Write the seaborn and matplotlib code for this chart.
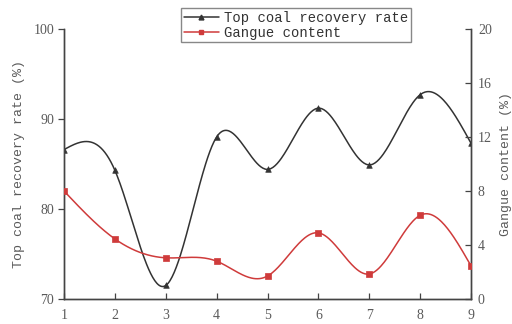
import numpy as np
import pandas as pd
import matplotlib
matplotlib.use("Agg")
import matplotlib.pyplot as plt
from matplotlib.lines import Line2D
import seaborn as sns

# Measured values per working face position
positions = [1, 2, 3, 4, 5, 6, 7, 8, 9]
recovery_rate = [86.6, 84.3, 71.5, 88.0, 84.4, 91.2, 84.9, 92.7, 87.3]
gangue_content = [8.0, 4.45, 3.05, 2.8, 1.7, 4.9, 1.85, 6.2, 2.45]

left_ticks = [70, 80, 90, 100]
right_ticks = [0, 4, 8, 12, 16, 20]


def natural_spline(x, y, num=400):
    """Smooth curve through the points using a natural cubic spline."""
    x = np.asarray(x, float)
    y = np.asarray(y, float)
    n = len(x)
    h = np.diff(x)
    A = np.zeros((n, n))
    b = np.zeros(n)
    A[0, 0] = A[-1, -1] = 1.0
    for i in range(1, n - 1):
        A[i, i - 1] = h[i - 1]
        A[i, i] = 2 * (h[i - 1] + h[i])
        A[i, i + 1] = h[i]
        b[i] = 3 * ((y[i + 1] - y[i]) / h[i] - (y[i] - y[i - 1]) / h[i - 1])
    c = np.linalg.solve(A, b)
    xs = np.linspace(x[0], x[-1], num)
    idx = np.clip(np.searchsorted(x, xs, side="right") - 1, 0, n - 2)
    dx = xs - x[idx]
    bb = (y[idx + 1] - y[idx]) / h[idx] - h[idx] * (2 * c[idx] + c[idx + 1]) / 3
    dd = (c[idx + 1] - c[idx]) / (3 * h[idx])
    ys = y[idx] + bb * dx + c[idx] * dx ** 2 + dd * dx ** 3
    return xs, ys


sns.set_theme(style="white")
plt.rcParams["font.family"] = ["Liberation Serif", "DejaVu Serif"]

text_color = "#5a5a5a"
axis_color = "#444444"
black_line = "#333333"
red_line = "#cf3b3b"

fig = plt.figure(figsize=(5.12, 3.24), dpi=100)
ax = fig.add_axes([0.125, 0.0772, 0.795, 0.8333])
ax2 = ax.twinx()

df = pd.DataFrame({"pos": positions, "rate": recovery_rate, "gangue": gangue_content})

xs, ys = natural_spline(positions, recovery_rate)
sns.lineplot(x=xs, y=ys, ax=ax, color=black_line, lw=1.1, sort=False)
sns.scatterplot(data=df, x="pos", y="rate", ax=ax, marker="^", s=16,
                color=black_line, edgecolor=black_line, linewidth=0.5, zorder=3)

xs2, ys2 = natural_spline(positions, gangue_content)
sns.lineplot(x=xs2, y=ys2, ax=ax2, color=red_line, lw=1.1, sort=False)
sns.scatterplot(data=df, x="pos", y="gangue", ax=ax2, marker="s", s=14,
                color=red_line, edgecolor=red_line, linewidth=0.5, zorder=3)

ax.set_xlim(1, 9)
ax.set_ylim(70, 100)
ax2.set_ylim(0, 20)
ax.set_xticks(positions)
ax.set_yticks(left_ticks)
ax2.set_yticks(right_ticks)
ax.set_xlabel("")

mono = ["Liberation Mono", "DejaVu Sans Mono"]
ax.set_ylabel("Top coal recovery rate (%)", family=mono, fontsize=9.5,
              color=text_color, labelpad=6)
ax2.set_ylabel("Gangue content (%)", family=mono, fontsize=9.5,
               color=text_color, labelpad=6)

for a in (ax, ax2):
    a.spines["top"].set_visible(False)
    for s in ("left", "right", "bottom"):
        a.spines[s].set_color(axis_color)
        a.spines[s].set_linewidth(1.0)
    a.tick_params(colors=axis_color, labelcolor=text_color, labelsize=10,
                  length=4, width=0.9)

ax.tick_params(axis="y", direction="out", left=True, pad=3)
ax.tick_params(axis="x", direction="in", bottom=True, pad=7)
ax2.tick_params(axis="y", direction="in", right=True, pad=5)

handles = [
    Line2D([0], [0], color=black_line, lw=1.1, marker="^", markersize=3.5),
    Line2D([0], [0], color=red_line, lw=1.1, marker="s", markersize=3.2),
]
fig.legend(handles, ["Top coal recovery rate", "Gangue content"],
           loc="upper left", bbox_to_anchor=(0.354, 0.975), borderaxespad=0,
           frameon=True, fancybox=False, edgecolor="#888888", framealpha=1,
           prop={"family": mono, "size": 10}, labelcolor="#333333",
           handlelength=2.5, handletextpad=0.35, borderpad=0.2,
           labelspacing=0.05)

fig.savefig("out.png", dpi=100)
